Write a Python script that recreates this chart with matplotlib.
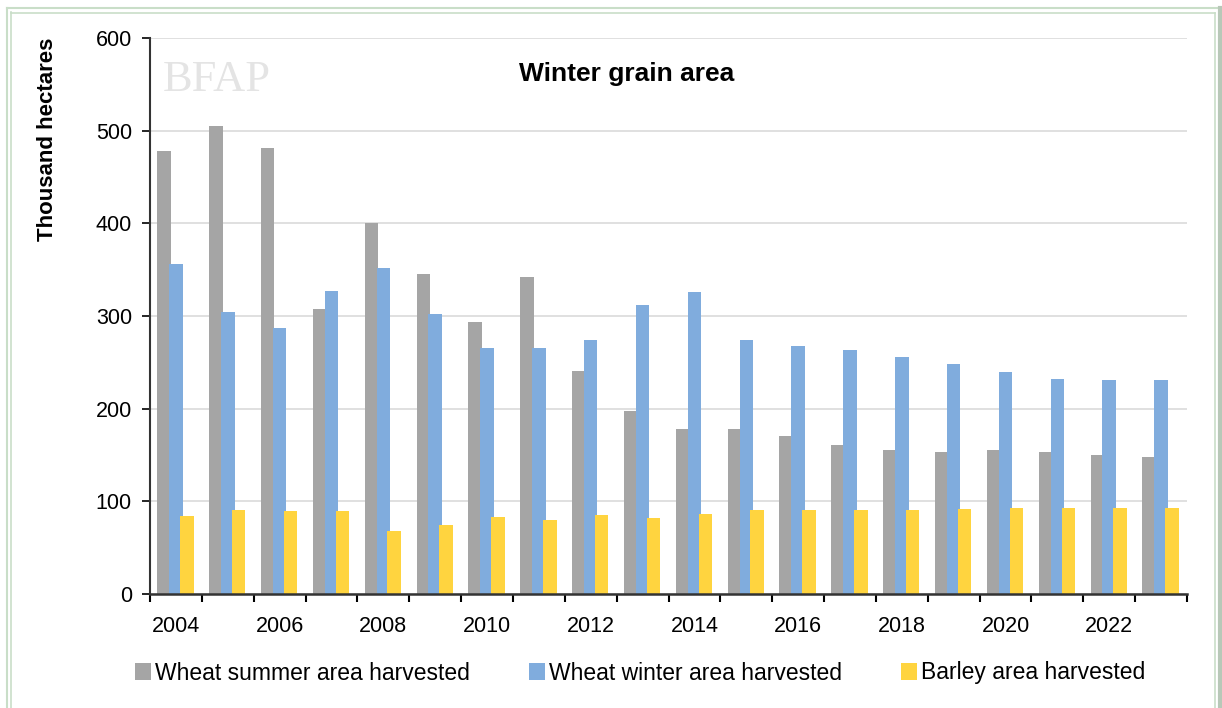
import matplotlib
matplotlib.use('Agg')
import matplotlib.pyplot as plt
import numpy as np
from matplotlib.lines import Line2D

years = list(range(2004, 2024))
wheat_summer = [478, 505, 481, 308, 400, 345, 294, 342, 241, 197,
                178, 178, 171, 161, 155, 153, 155, 153, 150, 148]
wheat_winter = [356, 304, 287, 327, 352, 302, 266, 266, 274, 312,
                326, 274, 268, 263, 256, 248, 240, 232, 231, 231]
barley = [84, 91, 90, 90, 68, 74, 83, 80, 85, 82,
          86, 91, 91, 91, 91, 92, 93, 93, 93, 93]
labels = ["Wheat summer area harvested", "Wheat winter area harvested", "Barley area harvested"]
colors = ["#A5A5A5", "#80ACDD", "#FFD43F"]

plt.rcParams['font.family'] = ['Liberation Sans', 'DejaVu Sans']

fig = plt.figure(figsize=(12.22, 7.08), dpi=100)
ax = fig.add_axes([150/1222, 1 - 594/708, (1187-150)/1222, (594-38)/708])

x = np.arange(len(years))
w = 0.26
series = [wheat_summer, wheat_winter, barley]
offsets = [-0.23, 0.0, 0.21]
for vals, off, c, lab in zip(series, offsets, colors, labels):
    ax.bar(x + off, vals, w, color=c, label=lab, zorder=2)

ax.set_xlim(-0.5, len(years) - 0.5)
ax.set_ylim(0, 600)
ax.set_yticks(range(0, 601, 100))
ax.grid(axis='y', color='#DADADA', linewidth=1.2, zorder=0)

# ticks on category boundaries, labels every other year
ax.set_xticks(np.arange(-0.5, len(years), 1))
ax.set_xticklabels([])
ax.set_xticks(x[::2], minor=True)
ax.set_xticklabels([str(y) for y in years[::2]], minor=True)
ax.tick_params(axis='x', which='minor', length=0, pad=16, labelsize=15.5)
ax.tick_params(axis='x', which='major', length=6, width=1.5, direction='out')
ax.tick_params(axis='y', length=6, width=1.2, labelsize=15.5, pad=7)

for s in ['top', 'right']:
    ax.spines[s].set_visible(False)
ax.spines['left'].set_linewidth(1.5)
ax.spines['bottom'].set_linewidth(1.8)
ax.spines['left'].set_color('#333333')
ax.spines['bottom'].set_color('#333333')

ax.text(0.46, 0.935, "Winter grain area", transform=ax.transAxes, ha='center',
        va='center', fontsize=19, fontweight='bold')
ax.set_ylabel("Thousand hectares", fontsize=16, fontweight='bold', loc='top', labelpad=27)

# faint logo placeholder
ax.text(0.012, 0.925, "BFAP", transform=ax.transAxes, fontsize=32,
        family='Liberation Serif', color='#E4E4E4', va='center', zorder=1)

leg = fig.legend(loc='center left', bbox_to_anchor=(114/1222, 1 - 673/708), ncol=3,
                 frameon=False, fontsize=16.5, handlelength=0.7, handleheight=0.7,
                 handletextpad=0.2, columnspacing=2.55)

# light green frame
fc = '#C9DEC8'
fig.add_artist(Line2D([7/1222, 7/1222], [0, 1 - 8/708], color=fc, lw=1.5))
fig.add_artist(Line2D([11/1222, 11/1222], [0, 1 - 12/708], color=fc, lw=1.2))
fig.add_artist(Line2D([7/1222, 1218/1222], [1 - 8/708, 1 - 8/708], color=fc, lw=1.5))
fig.add_artist(Line2D([11/1222, 1215/1222], [1 - 13/708, 1 - 13/708], color=fc, lw=1.2))
fig.add_artist(Line2D([1215/1222, 1215/1222], [0, 1 - 13/708], color=fc, lw=1.2))
fig.add_artist(Line2D([1220/1222, 1220/1222], [0, 1 - 8/708], color='#B8C8B8', lw=3))

fig.savefig("out.png", dpi=100)
